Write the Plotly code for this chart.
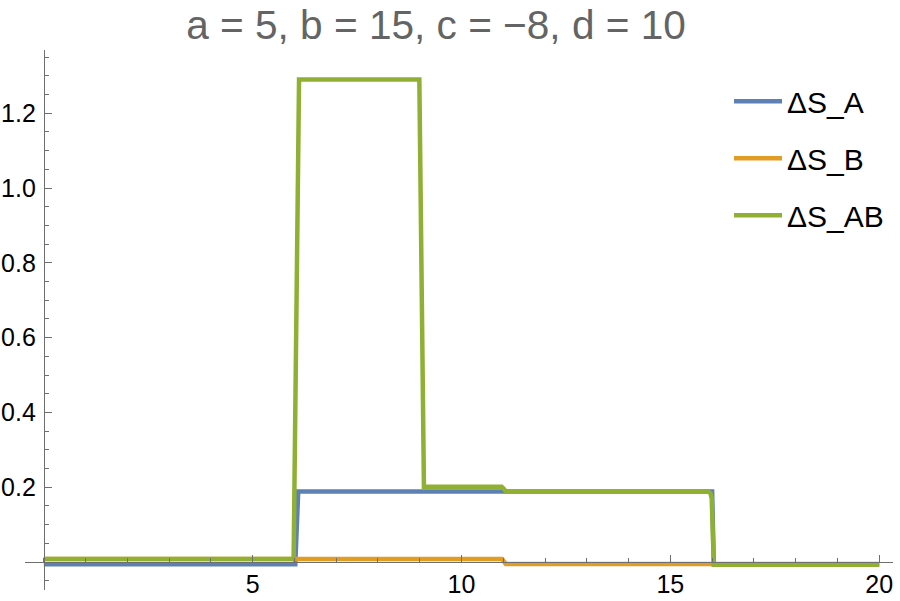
import plotly.graph_objects as go

# ---- data ----
a_x = [0, 6.02, 6.09, 16.0, 16.04, 20]
a_y = [-0.006, -0.006, 0.189, 0.189, -0.006, -0.006]

b_x = [0, 10.97, 11.06, 20]
b_y = [0.008, 0.008, -0.005, -0.005]

ab_x = [0, 5.98, 6.11, 8.99, 9.10, 10.96, 11.01, 11.06, 15.90, 15.96, 15.99, 16.04, 20]
ab_y = [0.008, 0.008, 1.290, 1.290, 0.2016, 0.2016, 0.196, 0.189, 0.189, 0.184, 0.17, -0.007, -0.007]

names = ["ΔS_A", "ΔS_B", "ΔS_AB"]
colors = ["#5E81B5", "#E19C24", "#8FB032"]

x_tickvals = [5, 10, 15, 20]
x_ticktext = ["5", "10", "15", "20"]
y_tickvals = [0.2, 0.4, 0.6, 0.8, 1.0, 1.2]
y_ticktext = ["0.2", "0.4", "0.6", "0.8", "1.0", "1.2"]

title_text = "a = 5, b = 15, c = \u22128, d = 10"

# ---- layout geometry ----
x_range = [-0.451, 20.33]
y_range = [-0.0746, 1.369]
xpos = (0 - y_range[0]) / (y_range[1] - y_range[0])
ypos = (0 - x_range[0]) / (x_range[1] - x_range[0])

FONT = "Liberation Sans, Arial, Helvetica, sans-serif"
AXC = "#6f6f6f"

fig = go.Figure()
for xs, ys, nm, col in zip([a_x, b_x, ab_x], [a_y, b_y, ab_y], names, colors):
    fig.add_trace(go.Scatter(x=xs, y=ys, mode="lines", name=nm, legendgroup=nm,
                             line=dict(color=col, width=4.5)))

fig.update_layout(
    width=900, height=601,
    margin=dict(l=25, r=7, t=50, b=11),
    paper_bgcolor="white", plot_bgcolor="white",
    title=dict(text=title_text, x=436/900, xanchor="center", y=1 - 25/601, yanchor="middle",
               xref="container", yref="container",
               font=dict(family=FONT, size=40.6, color="#646464")),
    font=dict(family=FONT, color="black"),
    showlegend=True,
    legend=dict(x=0.8111, y=0.9533, xanchor="left", yanchor="top",
                font=dict(family=FONT, size=30, color="black"),
                itemwidth=48,
                tracegroupgap=15, bgcolor="rgba(0,0,0,0)"),
    xaxis=dict(range=x_range, anchor="free", position=xpos,
               showline=True, linecolor=AXC, linewidth=1,
               showgrid=False, zeroline=False,
               tickmode="array", tickvals=x_tickvals, ticktext=x_ticktext,
               ticks="inside", ticklen=7, tickwidth=1, tickcolor=AXC,
               tickfont=dict(family=FONT, size=25, color="black"),
               minor=dict(tickmode="linear", tick0=0, dtick=1, ticks="inside",
                          ticklen=4, tickwidth=1, tickcolor=AXC),
               automargin=False),
    yaxis=dict(range=y_range, anchor="free", position=ypos,
               showline=True, linecolor=AXC, linewidth=1,
               showgrid=False, zeroline=False,
               tickmode="array", tickvals=y_tickvals, ticktext=y_ticktext,
               ticks="inside", ticklen=7, tickwidth=1, tickcolor=AXC,
               ticklabelstandoff=3,
               tickfont=dict(family=FONT, size=25, color="black"),
               minor=dict(tickmode="linear", tick0=0, dtick=0.05, ticks="inside",
                          ticklen=4, tickwidth=1, tickcolor=AXC),
               automargin=False),
)

fig.write_html("out.html", config={"displayModeBar": False},
               post_script="document.body.style.margin='0';document.body.style.overflow='hidden';")
